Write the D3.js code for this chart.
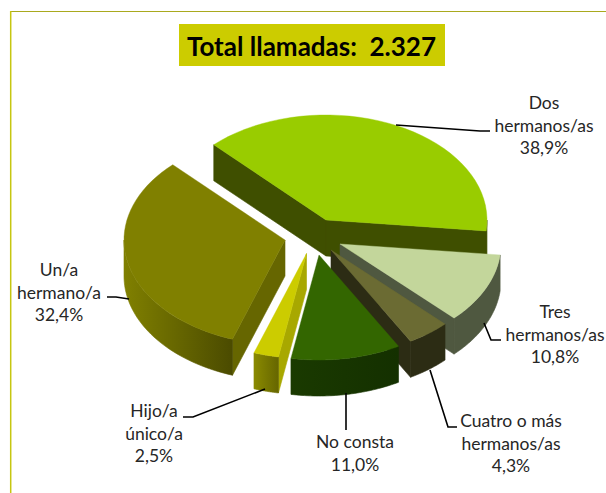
<!DOCTYPE html>
<html><head><meta charset="utf-8">
<script src="https://cdn.jsdelivr.net/npm/d3@7/dist/d3.min.js"></script>
<style>html,body{margin:0;padding:0;background:#fff;overflow:hidden}svg{display:block}text{font-family:Lato,"Open Sans",sans-serif}</style>
</head><body><div id="c"></div>
<script>
const categories = ["Dos hermanos/as","Tres hermanos/as","Cuatro o más hermanos/as","No consta","Hijo/a único/a","Un/a hermano/a"];
const values = [38.9,10.8,4.3,11.0,2.5,32.4];
const titleText = "Total llamadas:  2.327";

// layout and style, one entry per category
const apex = [[326,220],[340,244],[331,250],[319,255],[306.5,253.6],[285,240]];
const topColors = ["#99CC00","#C3D69B","#6B6B33","#336600","#CCCC00","#808000"];
const cutColors = ["#3F4F00","#4F5840","#2C2C14","#1C3800","#A8A800","#666600"];
const rimFrom = ["#3F4F00","#4F5840","#2C2C14","#1A3A00","#8A8A00","#808000"];
const rimTo   = ["#3F4F00","#4F5840","#2C2C14","#143000","#666600","#4B4B00"];
const drawOrder = [0,5,4,1,2,3];
const labelLines = [["Dos","hermanos/as","38,9%"],["Tres","hermanos/as","10,8%"],["Cuatro o más","hermanos/as","4,3%"],["No consta","11,0%"],["Hijo/a","único/a","2,5%"],["Un/a","hermano/a","32,4%"]];
const labelPos = [[544,109],[555,318],[511,427],[355,448],[154,417],[59,276]];
const leaders = [
 [[396,125],[480,131],[490,131]],
 [[484,323],[491,340],[501,340]],
 [[430,370],[448,427],[457,427]],
 [[346,393],[346,430]],
 [[265,389],[193,417],[183,417]],
 [[129,299],[116,297],[107,297]]
];

const W=606,H=493,depth=36;
const rimX=d3.scaleLinear([-1,1],[-161,161]);
const rimY=d3.scaleLinear([-1,1],[-105,105]);
const svg=d3.select("#c").append("svg").attr("width",W).attr("height",H);
const defs=svg.append("defs");

// frame
svg.append("path").attr("d",`M${W},11.5H10.5`).attr("fill","none").attr("stroke","#A9A91E").attr("stroke-width",1);
svg.append("path").attr("d",`M10.7,11V${H}`).attr("fill","none").attr("stroke","#C6C610").attr("stroke-width",1.5);

// title
svg.append("rect").attr("x",179).attr("y",24).attr("width",266).attr("height",42).attr("fill","#CCCC00");
svg.append("text").attr("x",311.5).attr("y",56).attr("text-anchor","middle").attr("xml:space","preserve")
   .style("white-space","pre").attr("font-size",26).attr("font-weight",700).attr("fill","#000").text(titleText);

// pie
const start=-44.2*Math.PI/180;
const arcs=d3.pie().sort(null).startAngle(start).endAngle(start+2*Math.PI)(values);
const pt=(i,a,dy=0)=>[apex[i][0]+rimX(Math.sin(a)),apex[i][1]-rimY(Math.cos(a))+dy];
const rimPts=(i,a0,a1,dy)=>d3.range(0,41).map(k=>pt(i,a0+(a1-a0)*k/40,dy));
const line=d3.line();
const g=svg.append("g");

function facing(a0,a1){ // part of the arc whose outer wall faces the viewer: cos(a)<0
  const lo=Math.max(a0,Math.PI/2), hi=Math.min(a1,1.5*Math.PI);
  return hi>lo?[lo,hi]:null;
}
const face=(d,fill,sw)=>g.append("path").attr("d",d).attr("fill",fill).attr("stroke",fill).attr("stroke-width",sw).attr("stroke-linejoin","round");
drawOrder.forEach(i=>{
  const a=arcs[i], a0=a.startAngle, a1=a.endAngle;
  const c=apex[i];
  const cut=ang=>line([[c[0],c[1]],pt(i,ang),pt(i,ang,depth),[c[0],c[1]+depth]])+"Z";
  // start-edge normal is ang-90deg, end-edge normal is ang+90deg; visible if it points downward
  if(Math.cos(a0-Math.PI/2)<0) face(cut(a0),cutColors[i],0.6);
  if(Math.cos(a1+Math.PI/2)<0) face(cut(a1),cutColors[i],0.6);
  // outer wall
  const f=facing(a0,a1);
  if(f){
    const id="rim"+i, x0=pt(i,f[1])[0], x1=pt(i,f[0])[0];
    const gr=defs.append("linearGradient").attr("id",id).attr("gradientUnits","userSpaceOnUse")
      .attr("x1",x0).attr("x2",x1).attr("y1",0).attr("y2",0);
    gr.append("stop").attr("offset",0).attr("stop-color",rimFrom[i]);
    gr.append("stop").attr("offset",1).attr("stop-color",rimTo[i]);
    const pts=rimPts(i,f[0],f[1],0).concat(rimPts(i,f[1],f[0],depth));
    face(line(pts)+"Z",`url(#${id})`,0.6);
  }
  // top
  face(line([c].concat(rimPts(i,a0,a1,0)))+"Z",topColors[i],0.4);
});

// leaders
svg.append("g").selectAll("path").data(leaders).join("path")
  .attr("d",d=>line(d)).attr("fill","none").attr("stroke","#000").attr("stroke-width",1.6);

// labels
labelLines.forEach((ls,i)=>{
  const t=svg.append("text").attr("text-anchor","middle").attr("font-size",17.5).attr("fill","#262626");
  ls.forEach((s,k)=>t.append("tspan").attr("x",labelPos[i][0]).attr("y",labelPos[i][1]+k*22.7).text(s));
});
</script></body></html>
